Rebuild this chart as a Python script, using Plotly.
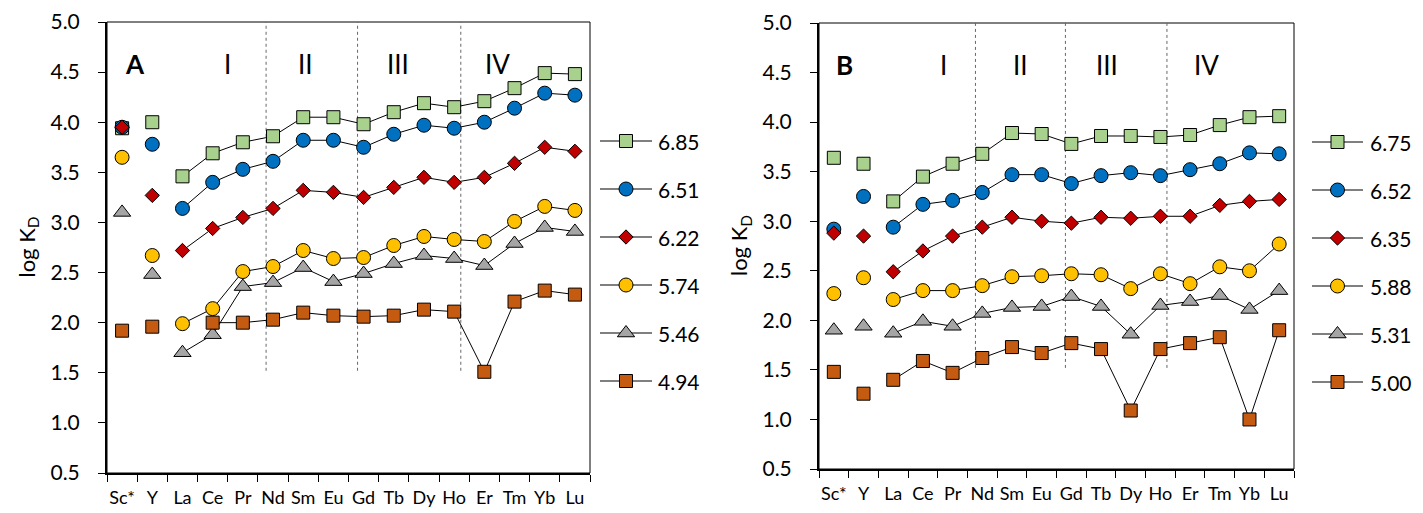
import plotly.graph_objects as go

# Elements on the x axis
elements = ["Sc*", "Y", "La", "Ce", "Pr", "Nd", "Sm", "Eu", "Gd", "Tb", "Dy", "Ho", "Er", "Tm", "Yb", "Lu"]

# Panel A: log KD per element for each series
a_labels = ["6.85", "6.51", "6.22", "5.74", "5.46", "4.94"]
a_685 = [3.94, 4.00, 3.46, 3.69, 3.80, 3.86, 4.05, 4.05, 3.98, 4.10, 4.19, 4.15, 4.21, 4.34, 4.49, 4.48]
a_651 = [3.95, 3.78, 3.14, 3.40, 3.53, 3.61, 3.82, 3.82, 3.75, 3.88, 3.97, 3.94, 4.00, 4.14, 4.29, 4.27]
a_622 = [3.95, 3.27, 2.72, 2.94, 3.05, 3.14, 3.32, 3.30, 3.25, 3.35, 3.45, 3.40, 3.45, 3.59, 3.75, 3.71]
a_574 = [3.65, 2.67, 1.99, 2.14, 2.51, 2.56, 2.72, 2.64, 2.65, 2.77, 2.86, 2.83, 2.81, 3.01, 3.16, 3.12]
a_546 = [3.10, 2.48, 1.70, 1.88, 2.36, 2.40, 2.55, 2.41, 2.49, 2.59, 2.67, 2.64, 2.57, 2.79, 2.95, 2.91]
a_494 = [1.92, 1.96, None, 2.00, 2.00, 2.03, 2.10, 2.07, 2.06, 2.07, 2.13, 2.11, 1.51, 2.21, 2.32, 2.28]

# Panel B: log KD per element for each series
b_labels = ["6.75", "6.52", "6.35", "5.88", "5.31", "5.00"]
b_675 = [3.64, 3.58, 3.20, 3.45, 3.58, 3.68, 3.89, 3.88, 3.78, 3.86, 3.86, 3.85, 3.87, 3.97, 4.05, 4.06]
b_652 = [2.92, 3.25, 2.94, 3.17, 3.21, 3.29, 3.47, 3.47, 3.38, 3.46, 3.49, 3.46, 3.52, 3.58, 3.69, 3.68]
b_635 = [2.88, 2.85, 2.49, 2.70, 2.85, 2.94, 3.04, 3.00, 2.98, 3.04, 3.03, 3.05, 3.05, 3.16, 3.20, 3.22]
b_588 = [2.27, 2.43, 2.21, 2.30, 2.30, 2.35, 2.44, 2.45, 2.47, 2.46, 2.32, 2.47, 2.37, 2.54, 2.50, 2.77]
b_531 = [1.90, 1.94, 1.87, 1.99, 1.94, 2.07, 2.13, 2.14, 2.24, 2.14, 1.86, 2.15, 2.19, 2.25, 2.11, 2.30]
b_500 = [1.48, 1.26, 1.40, 1.59, 1.47, 1.62, 1.73, 1.67, 1.77, 1.71, 1.09, 1.71, 1.77, 1.83, 1.00, 1.90]

# Group boundaries (element index units) and group labels
group_lines = [4.77, 7.80, 11.22]
group_names = ["I", "II", "III", "IV"]
a_group_pos = [3.48, 6.06, 9.14, 12.42]
b_group_pos = [3.70, 6.30, 9.20, 12.56]

symbols = ["square", "circle", "diamond", "circle", "triangle-up", "square"]
sizes = [13, 14, 11, 14, 15, 13]
fills = ["#A9D18E", "#0070C0", "#C00000", "#FFC000", "#A5A5A5", "#C55A11"]

FONT = "Lato"
W, H = 1423, 513
fig = go.Figure()


def marker_style(i):
    return dict(symbol=symbols[i], size=sizes[i], color=fills[i],
                line=dict(color="black", width=1))


def add_panel(series, labels, xa, ya):
    for i, (vals, lab) in enumerate(zip(series, labels)):
        # Sc* and Y stand alone (no connecting line)
        fig.add_trace(go.Scatter(
            x=elements[:2], y=vals[:2], mode="markers", marker=marker_style(i),
            xaxis=xa, yaxis=ya, name=lab, showlegend=False))
        # Lanthanide series connected
        fig.add_trace(go.Scatter(
            x=elements[2:], y=vals[2:], mode="lines+markers", marker=marker_style(i),
            line=dict(color="black", width=1), connectgaps=False,
            xaxis=xa, yaxis=ya, name=lab, showlegend=False))


add_panel([a_685, a_651, a_622, a_574, a_546, a_494], a_labels, "x", "y")
add_panel([b_675, b_652, b_635, b_588, b_531, b_500], b_labels, "x2", "y2")

# Key entries, laid out in pixel coordinates on an overlay axis pair
annotations = []
for labels, x_line0, x_line1, x_text, y_first in [(a_labels, 600, 652, 656, 141),
                                                     (b_labels, 1312, 1363, 1368, 142)]:
    for i, lab in enumerate(labels):
        yy = y_first + 48 * i
        fig.add_trace(go.Scatter(x=[x_line0, x_line1], y=[yy, yy], mode="lines",
                                 line=dict(color="black", width=1), xaxis="x3", yaxis="y3",
                                 showlegend=False, hoverinfo="skip"))
        fig.add_trace(go.Scatter(x=[(x_line0 + x_line1) / 2], y=[yy], mode="markers",
                                 marker=marker_style(i), xaxis="x3", yaxis="y3",
                                 showlegend=False, hoverinfo="skip"))
        annotations.append(dict(xref="x3", yref="y3", x=x_text, y=yy, text=lab,
                                xanchor="left", yanchor="middle", showarrow=False,
                                font=dict(family=FONT, size=21, color="black")))

xcommon = dict(type="category", categoryorder="array", categoryarray=elements,
               range=[-0.5, 15.5], tickson="boundaries", ticks="outside", ticklen=7,
               tickcolor="black", tickwidth=1, showline=True, linewidth=2, linecolor="black",
               showgrid=False, zeroline=False, tickangle=0, automargin=False,
               tickfont=dict(family=FONT, size=18, color="black"), ticklabelstandoff=7)
ycommon = dict(range=[0.5, 5.0], dtick=0.5, tick0=0.5, tickformat=".1f", ticks="outside",
               ticklen=7, tickcolor="black", tickwidth=1, showline=True, linewidth=2,
               linecolor="black", showgrid=False, zeroline=False, automargin=False,
               tickfont=dict(family=FONT, size=21, color="black"), ticklabelstandoff=14)

fig.update_layout(
    width=W, height=H, margin=dict(l=0, r=0, t=0, b=0, autoexpand=False),
    paper_bgcolor="white", plot_bgcolor="rgba(0,0,0,0)",
    font=dict(family=FONT, color="black"),
    showlegend=False,
    xaxis=dict(domain=[107 / W, 590 / W], anchor="y", **xcommon),
    yaxis=dict(domain=[(H - 473) / H, (H - 22) / H], anchor="x", **ycommon),
    xaxis2=dict(domain=[819 / W, 1294 / W], anchor="y2", **xcommon),
    yaxis2=dict(domain=[(H - 469) / H, (H - 23) / H], anchor="x2", **ycommon),
    xaxis3=dict(domain=[0, 1], range=[0, W], anchor="y3", visible=False, fixedrange=True,
                automargin=False),
    yaxis3=dict(domain=[0, 1], range=[H, 0], anchor="x3", visible=False, fixedrange=True,
                automargin=False),
)

shapes = []
for xa, ya, gpos, letter, lx in [("x", "y", a_group_pos, "A", 0.43), ("x2", "y2", b_group_pos, "B", 0.37)]:
    # thin frame on top and right
    shapes.append(dict(type="rect", xref=f"{xa} domain", yref=f"{ya} domain",
                       x0=0, x1=1, y0=0, y1=1, line=dict(color="black", width=1), layer="below"))
    for gx in group_lines:
        shapes.append(dict(type="line", xref=xa, yref=ya, x0=gx, x1=gx, y0=1.52, y1=5.0,
                           line=dict(color="#666666", width=1, dash="dot"), layer="below"))
    annotations.append(dict(xref=xa, yref=ya, x=lx, y=4.58, text=f"<b>{letter}</b>",
                            showarrow=False, font=dict(family=FONT, size=26, color="black")))
    for name, px in zip(group_names, gpos):
        annotations.append(dict(xref=xa, yref=ya, x=px, y=4.58, text=name, showarrow=False,
                                font=dict(family=FONT, size=26, color="black")))

# y-axis titles
for xc, y0, y1 in [(28, 22, 473), (740, 23, 469)]:
    annotations.append(dict(xref="paper", yref="paper", x=xc / W, y=(H - (y0 + y1) / 2) / H,
                            text="log K<sub>D</sub>", textangle=-90, showarrow=False,
                            xanchor="center", yanchor="middle",
                            font=dict(family=FONT, size=22, color="black")))

fig.update_layout(shapes=shapes, annotations=annotations)
fig.write_html("out.html")
